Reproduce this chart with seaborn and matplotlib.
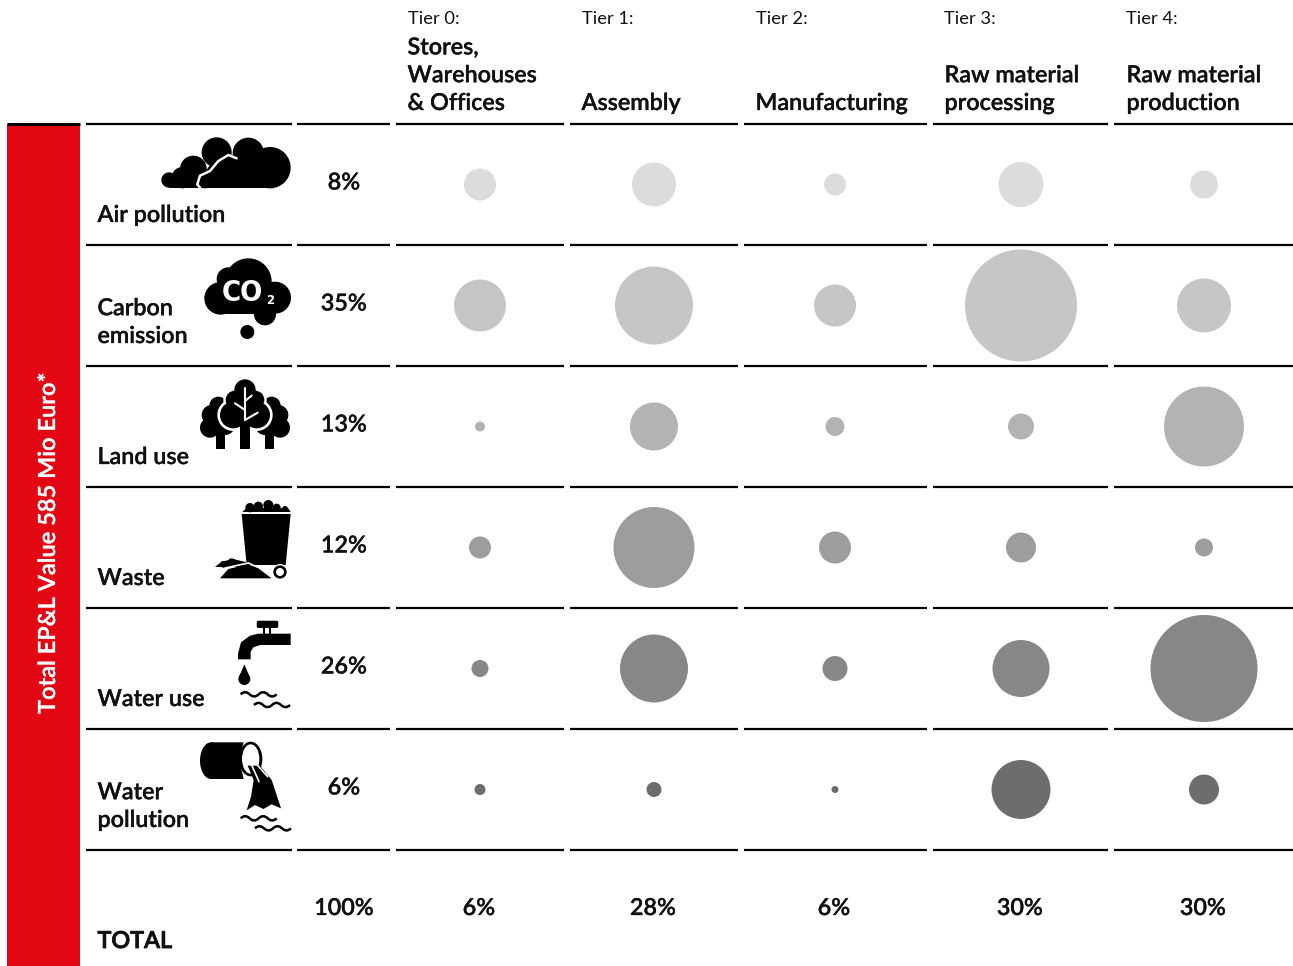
import numpy as np
import pandas as pd
import matplotlib
matplotlib.use("Agg")
import matplotlib.pyplot as plt
import matplotlib.patheffects as pe
import seaborn as sns
from matplotlib.patches import Circle, Ellipse, Polygon, Rectangle, FancyBboxPatch, PathPatch
from matplotlib.path import Path

# Data
impacts = ["Air pollution", "Carbon\nemission", "Land use", "Waste", "Water use", "Water\npollution"]
impact_shares = ["8%", "35%", "13%", "12%", "26%", "6%"]
tier_numbers = ["Tier 0:", "Tier 1:", "Tier 2:", "Tier 3:", "Tier 4:"]
tier_names = ["Stores,\nWarehouses\n& Offices", "Assembly", "Manufacturing", "Raw material\nprocessing", "Raw material\nproduction"]
tier_totals = ["6%", "28%", "6%", "30%", "30%"]
air_d = [32, 44, 22, 45, 28]
carbon_d = [52, 78, 42, 112, 54]
land_d = [10, 48, 19, 26, 80]
waste_d = [22, 81, 32, 30, 18]
wateruse_d = [17, 68, 25, 57, 107]
waterpol_d = [11, 15, 7, 59, 30]
row_colors = ["#dcdcdc", "#c6c6c6", "#b3b3b3", "#9d9d9d", "#878787", "#6d6d6d"]

# Layout in pixels
W, H = 1293, 966
tier_x = [480, 654, 835, 1021, 1204]
tier_left = [407.5, 581.5, 755.5, 944.5, 1126.5]
row_y = [184.5, 305.5, 426.5, 547.5, 668.5, 789.5]
rule_y = [245, 366, 487, 608, 729, 850]
spans = [(86, 292), (297, 390), (396, 564), (570, 738), (744, 927), (933, 1108), (1114, 1293)]
FONT = "Lato"
INK = "#111111"
BIG = 16.8
# Lato has no weight as heavy as the original face at this size, thicken it a little
HEAVY = [pe.withStroke(linewidth=0.22, foreground=INK)]

sns.set_theme(style="white")
plt.rcParams["font.family"] = [FONT, "DejaVu Sans"]

fig = plt.figure(figsize=(W / 100, H / 100), dpi=100)
ax = fig.add_axes([0, 0, 1, 1])

rows = [air_d, carbon_d, land_d, waste_d, wateruse_d, waterpol_d]
df = pd.DataFrame({
    "x": tier_x * len(rows),
    "y": np.repeat(row_y, len(tier_x)),
    "impact": np.repeat(impacts, len(tier_x)),
    "d": np.concatenate(rows),
})
sizes = {d: (d * 0.72) ** 2 for d in df["d"].unique()}
sns.scatterplot(data=df, x="x", y="y", hue="impact", size="d", sizes=sizes,
                palette=row_colors, linewidth=0, legend=False, ax=ax, zorder=3)
ax.set_xlim(0, W)
ax.set_ylim(H, 0)
ax.axis("off")

# Red side band
ax.add_patch(Rectangle((7, 124), 73, H - 124, color="#e30613", lw=0))
ax.text(47.5, 543, "Total EP&L Value 585 Mio Euro*", color="white", fontsize=17, fontweight="semibold",
        rotation=90, ha="center", va="center",
        path_effects=[pe.withStroke(linewidth=0.2, foreground="white")])

# Rules
ax.plot([7, 80], [124, 124], color="black", lw=2.2, solid_capstyle="butt")
for x0, x1 in spans:
    ax.plot([x0, x1], [124, 124], color="black", lw=1.6, solid_capstyle="butt")
    for y in rule_y:
        ax.plot([x0, x1], [y, y], color="black", lw=1.6, solid_capstyle="butt")

# Header
for x, num, name in zip(tier_left, tier_numbers, tier_names):
    ax.text(x, 19.5, num, fontsize=13.2, color=INK, va="center")
    ax.text(x, 114, name, fontsize=BIG, fontweight="semibold", color=INK, va="bottom",
            linespacing=1.4, path_effects=HEAVY)

# Row labels and shares
label_base = [226, 347, 468, 589, 710, 831]
for lab, base, share, y in zip(impacts, label_base, impact_shares, row_y):
    ax.text(97.5, base, lab, fontsize=BIG, fontweight="semibold", color=INK, va="bottom",
            linespacing=1.4, path_effects=HEAVY)
    ax.text(344, y - 1.5, share, fontsize=BIG, fontweight="semibold", color=INK, ha="center", va="center",
            path_effects=HEAVY)

# Totals
ax.text(97.5, 941.5, "TOTAL", fontsize=BIG, fontweight="semibold", color=INK, va="center",
        path_effects=[pe.withStroke(linewidth=0.6, foreground=INK)])
ax.text(344, 908.5, "100%", fontsize=BIG, fontweight="semibold", color=INK, ha="center", va="center",
        path_effects=HEAVY)
for x, t in zip(tier_x, tier_totals):
    ax.text(x - 1, 908.5, t, fontsize=BIG, fontweight="semibold", color=INK, ha="center", va="center",
            path_effects=HEAVY)


# Icon helpers, coordinates given in zoomed crop units (3x)
def to_px(pts, ox, oy):
    return [(ox + px / 3, oy + py / 3) for px, py in pts]


def blobs(circles, ox, oy, color="black", z=4):
    for cx, cy, r in circles:
        ax.add_patch(Circle((ox + cx / 3, oy + cy / 3), r / 3, color=color, lw=0, zorder=z))


def poly(pts, ox, oy, color="black", z=4):
    ax.add_patch(Polygon(to_px(pts, ox, oy), closed=True, color=color, lw=0, zorder=z))


def stroke(pts, ox, oy, color="white", lw=1.5, z=6):
    xs, ys = zip(*to_px(pts, ox, oy))
    ax.plot(xs, ys, color=color, lw=lw, zorder=z, solid_capstyle="round")


def wave(x0, y0, step, humps, ox, oy):
    verts = [(x0, y0)]
    codes = [Path.MOVETO]
    for i in range(humps):
        amp = -13 if i % 2 == 0 else 13
        verts += [(x0 + step * (i + 0.5), y0 + amp), (x0 + step * (i + 1), y0)]
        codes += [Path.CURVE3, Path.CURVE3]
    ax.add_patch(PathPatch(Path(to_px(verts, ox, oy), codes), fill=False, color="black", lw=1.8, zorder=4))


# Air pollution
ox, oy = 85, 125
blobs([(555, 128, 62), (490, 85, 47), (395, 82, 45), (325, 132, 40), (252, 165, 23), (292, 158, 32),
       (360, 165, 25), (430, 130, 40), (480, 140, 45), (400, 150, 38)], ox, oy)
poly([(252, 188), (252, 165), (560, 165), (560, 190)], ox, oy)
stroke([(337, 178), (345, 152), (375, 138), (400, 108), (430, 90), (455, 100)], ox, oy, lw=1.8)
stroke([(337, 178), (345, 188)], ox, oy, lw=1.8)

# Carbon emission
ox, oy = 85, 125
blobs([(407, 520, 49), (490, 470, 70), (570, 518, 48), (430, 462, 35), (540, 568, 33)], ox, oy)
poly([(407, 500), (570, 500), (570, 568), (407, 568)], ox, oy)
blobs([(487, 621, 21)], ox, oy)
ax.text(ox + 473 / 3, oy + 503 / 3, "CO", color="white", fontsize=21, fontweight="bold", family="DejaVu Sans",
        stretch="condensed", ha="center", va="center", zorder=6)
ax.text(ox + 557 / 3, oy + 527 / 3, "2", color="white", fontsize=8.5, fontweight="bold", family="DejaVu Sans",
        ha="center", va="center", zorder=6)

# Land use
ox, oy = 85, 365
for mirror in [0, 1]:
    fx = (lambda v: 960 - v) if mirror else (lambda v: v)
    blobs([(fx(400), 122, 27), (fx(380), 150, 30), (fx(375), 188, 30), (fx(420), 180, 30)], ox, oy)
    poly([(fx(393), 200), (fx(420), 200), (fx(420), 252), (fx(393), 252)], ox, oy)
blobs([(480, 75, 38), (450, 105, 35), (510, 105, 35), (445, 150, 48), (515, 150, 48), (480, 135, 50)], ox, oy, color="white", z=5)
poly([(455, 190), (505, 190), (505, 215), (455, 215)], ox, oy, color="white", z=5)
blobs([(480, 75, 32), (450, 105, 28), (510, 105, 28), (445, 150, 40), (515, 150, 40), (480, 135, 45)], ox, oy, z=5.5)
poly([(465, 170), (495, 170), (495, 252), (465, 252)], ox, oy, z=5.5)
stroke([(480, 70), (480, 165)], ox, oy, lw=1.5)
stroke([(480, 165), (518, 143)], ox, oy, lw=1.5)
stroke([(480, 135), (450, 115)], ox, oy, lw=1.5)
stroke([(480, 108), (500, 92)], ox, oy, lw=1.5)

# Waste
ox, oy = 85, 365
poly([(470, 447), (617, 447), (602, 600), (485, 600)], ox, oy)
blobs([(495, 428, 14), (520, 424, 14), (550, 420, 15), (575, 428, 12), (600, 432, 9)], ox, oy)
poly([(472, 441), (485, 428), (610, 430), (617, 441)], ox, oy)
blobs([(415, 598, 10), (440, 592, 12)], ox, oy)
poly([(390, 606), (410, 590), (445, 582), (485, 592), (485, 606)], ox, oy)
poly([(405, 640), (430, 612), (490, 598), (520, 610), (560, 640)], ox, oy, z=5)
stroke([(425, 608), (490, 594), (525, 610), (562, 636)], ox, oy, lw=1.2, z=4.5)
blobs([(585, 621, 24)], ox, oy, color="white", z=5)
blobs([(585, 621, 20)], ox, oy, z=5.2)
blobs([(585, 621, 12)], ox, oy, color="white", z=5.4)

# Water use
ox, oy = 85, 605
ax.add_patch(FancyBboxPatch((ox + 520 / 3, oy + 52 / 3), 55 / 3, 12 / 3, boxstyle="round,pad=1.6", color="black", lw=0, zorder=4))
poly([(535, 65), (541, 65), (541, 90), (535, 90)], ox, oy)
poly([(551, 65), (557, 65), (557, 90), (551, 90)], ox, oy)
poly([(459, 163), (459, 145), (468, 112), (495, 92), (520, 86), (617, 86), (617, 120), (525, 120), (505, 127), (497, 140), (497, 163)], ox, oy)
blobs([(478, 222, 18)], ox, oy)
poly([(478, 178), (461, 218), (495, 218)], ox, oy)
wave(467, 268, 27, 4, ox, oy)
wave(507, 300, 27, 4, ox, oy)

# Water pollution
ox, oy = 85, 605
ax.add_patch(Ellipse((ox + 378 / 3, oy + 467 / 3), 66 / 3, 110 / 3, color="black", lw=0, zorder=4))
poly([(378, 412), (476, 412), (462, 460), (476, 522), (378, 522)], ox, oy)
ax.add_patch(Ellipse((ox + 497 / 3, oy + 462 / 3), 70 / 3, 104 / 3, color="black", lw=0, zorder=4))
ax.add_patch(Ellipse((ox + 497 / 3, oy + 462 / 3), 52 / 3, 88 / 3, color="white", lw=0, zorder=4.2))
poly([(488, 482), (525, 482), (560, 525), (588, 610), (560, 598), (535, 612), (510, 600), (485, 616), (498, 575), (506, 525)], ox, oy, z=4.4)
stroke([(500, 480), (522, 530)], ox, oy, lw=1.2)
stroke([(515, 478), (548, 515)], ox, oy, lw=1.2)
wave(467, 640, 27, 4, ox, oy)
wave(510, 670, 27, 4, ox, oy)

fig.savefig("out.png", dpi=100)
